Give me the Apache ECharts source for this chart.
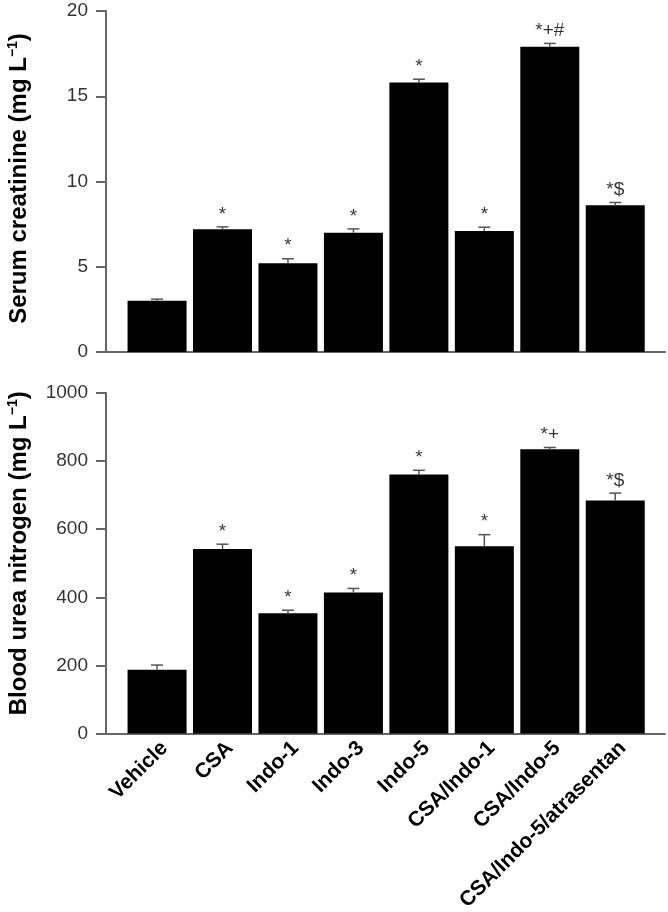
<!DOCTYPE html>
<html>
<head>
<meta charset="utf-8">
<script src="https://cdn.jsdelivr.net/npm/echarts@6/dist/echarts.min.js"></script>
<style>
html,body{margin:0;padding:0;background:#fff;}
#chart{width:668px;height:912px;}
</style>
</head>
<body>
<div id="chart"></div>
<script>
const categories = ['Vehicle', 'CSA', 'Indo-1', 'Indo-3', 'Indo-5', 'CSA/Indo-1', 'CSA/Indo-5', 'CSA/Indo-5/atrasentan'];
const creatinine = [3.0, 7.2, 5.2, 7.0, 15.8, 7.1, 17.9, 8.6];
const creatinineErr = [0.1, 0.14, 0.27, 0.22, 0.2, 0.22, 0.2, 0.17];
const creatinineMarks = ['', '*', '*', '*', '*', '*', '*+#', '*$'];
const bun = [187, 542, 353, 414, 761, 550, 835, 684];
const bunErr = [14, 14, 9, 12, 12, 34, 5, 22];
const bunMarks = ['', '*', '*', '*', '*', '*', '*+', '*$'];
const creatinineAxis = { min: 0, max: 20, interval: 5 };
const bunAxis = { min: 0, max: 1000, interval: 200 };

const FONT = '"Liberation Sans", Arial, Helvetica, sans-serif';
const AXIS_COLOR = '#666';

const chart = echarts.init(document.getElementById('chart'));

function xAxisCfg(gridIndex, showLabels) {
  return {
    type: 'value', gridIndex: gridIndex, min: -0.78, max: 7.76,
    splitLine: { show: false },
    axisTick: { show: false },
    axisLine: { show: true, onZero: false, lineStyle: { color: AXIS_COLOR, width: 2 } },
    axisLabel: {
      show: showLabels,
      customValues: categories.map((c, i) => i),
      formatter: v => categories[Math.round(v)] || '',
      rotate: 45, margin: 4, align: 'right', verticalAlign: 'top',
      fontFamily: FONT, fontSize: 21, fontWeight: 'bold', color: '#000'
    }
  };
}
function yAxisCfg(gridIndex, ax, title, shift) {
  return {
    type: 'value', gridIndex: gridIndex, min: ax.min, max: ax.max, interval: ax.interval,
    splitLine: { show: false },
    axisLine: { show: true, onZero: false, lineStyle: { color: AXIS_COLOR, width: 2 } },
    axisTick: { show: true, length: 10, lineStyle: { color: AXIS_COLOR, width: 2 } },
    axisLabel: { margin: 18, fontFamily: FONT, fontSize: 19, color: '#333', formatter: v => String(v) },
    name: title + ' (mg L{sup|−1})',
    nameLocation: 'middle', nameGap: 74, nameRotate: 90,
    nameTextStyle: {
      fontFamily: FONT, fontSize: 24, fontWeight: 'bold', color: '#000',
      padding: [0, 0, 0, shift],
      rich: { sup: { fontFamily: FONT, fontSize: 14, fontWeight: 'bold', color: '#000', verticalAlign: 'top', padding: [0, 0, 12, 0] } }
    }
  };
}
function seriesFor(idx, values, errs, marks) {
  return [
    {
      type: 'bar', xAxisIndex: idx, yAxisIndex: idx, barWidth: 59,
      itemStyle: { color: '#000' },
      data: values.map((v, i) => [i, v])
    },
    {
      type: 'custom', xAxisIndex: idx, yAxisIndex: idx, z: 5,
      renderItem: function (params, api) {
        const x = api.value(0), v = api.value(1), e = api.value(2);
        const b = api.coord([x, v]);
        const t = api.coord([x, v + e]);
        const st = { stroke: '#555', lineWidth: 1.5 };
        return {
          type: 'group', children: [
            { type: 'line', shape: { x1: b[0], y1: b[1], x2: t[0], y2: t[1] }, style: st },
            { type: 'line', shape: { x1: t[0] - 6, y1: t[1], x2: t[0] + 6, y2: t[1] }, style: st }
          ]
        };
      },
      data: values.map((v, i) => [i, v, errs[i]])
    },
    {
      type: 'scatter', xAxisIndex: idx, yAxisIndex: idx, symbolSize: 0, z: 6,
      label: {
        show: true, position: 'top', distance: 3,
        formatter: p => marks[p.dataIndex],
        fontFamily: FONT, fontSize: 19, color: '#000'
      },
      data: values.map((v, i) => [i, v + errs[i]])
    }
  ];
}

chart.setOption({
  animation: false,
  backgroundColor: '#fff',
  grid: [
    { left: 106, right: 3, top: 11, height: 341, outerBoundsMode: 'none', containLabel: false },
    { left: 106, right: 3, top: 393, height: 340.5, outerBoundsMode: 'none', containLabel: false }
  ],
  xAxis: [xAxisCfg(0, false), xAxisCfg(1, true)],
  yAxis: [yAxisCfg(0, creatinineAxis, 'Serum creatinine', 6), yAxisCfg(1, bunAxis, 'Blood urea nitrogen', 20)],
  series: [].concat(
    seriesFor(0, creatinine, creatinineErr, creatinineMarks),
    seriesFor(1, bun, bunErr, bunMarks)
  )
});
</script>
</body>
</html>
